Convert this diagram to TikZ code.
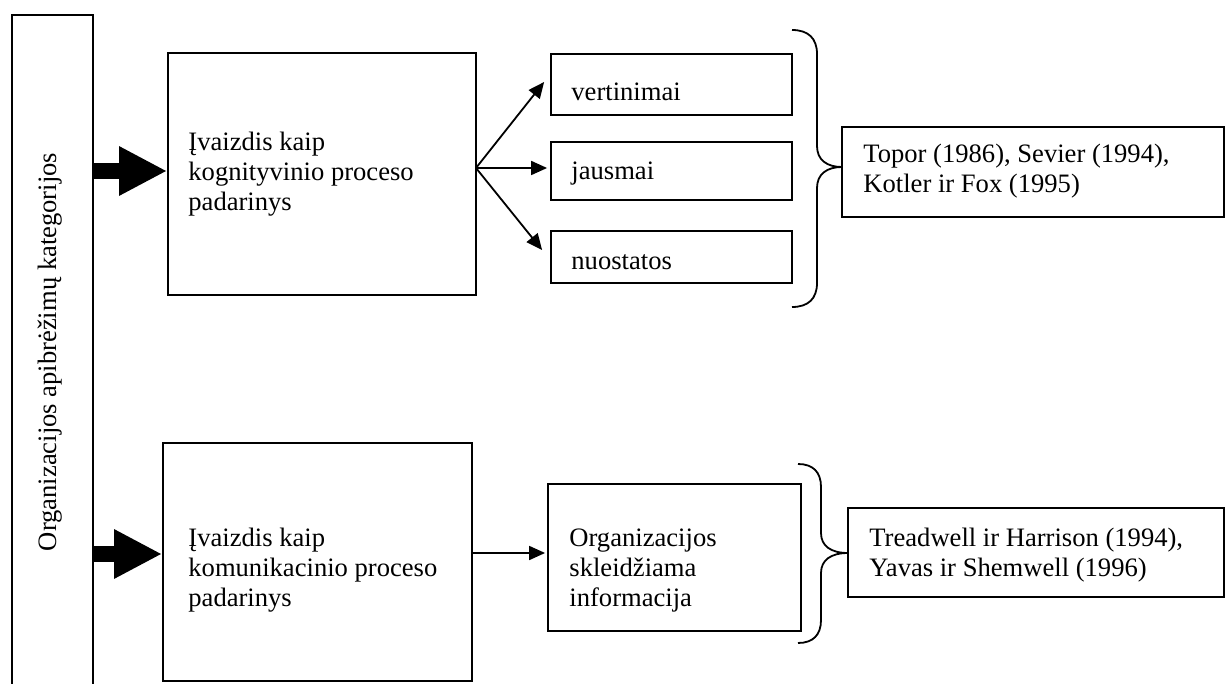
\documentclass[tikz,border=0pt]{standalone}
\usepackage{fontspec}
\setmainfont{Liberation Serif}
\usetikzlibrary{arrows.meta,fit,calc}
\begin{document}
\begin{tikzpicture}[x=0.5pt,y=-0.5pt,
  box/.style={draw, line width=0.9pt, inner sep=0pt},
  lbl/.style={inner sep=0pt, align=left, font=\fontsize{13.3}{15}\selectfont},
  thinarrow/.style={line width=0.9pt, -{Triangle[length=8pt 0 1,width=7pt 0 1]}},
  bigarrow/.style={line width=8pt, -{Triangle[length=24pt 0 1,width=23pt 0 1]}},
  bracepath/.style={line width=0.9pt}]
\useasboundingbox (0,0) rectangle (1226,684);

% tall category column (runs off the bottom of the page)
\node[box, fit={(12,15) (93,700)}] (cat) {};
\node[lbl, rotate=90, anchor=base] (catlbl) at (56,352) {Organizacijos apibrėžimų kategorijos};

% first category: cognitive process
% (multi-line labels are anchored at the baseline of their last line)
\node[box, fit={(168,53) (476,295)}] (b1) {};
\node[lbl, anchor=base west] (b1lbl) at (188,211) {Įvaizdis kaip\\kognityvinio proceso\\padarinys};

\node[box, fit={(551,54) (792,115)}] (v1) {};
\node[lbl, anchor=base west] (v1lbl) at (571,101) {vertinimai};
\node[box, fit={(551,142) (792,200)}] (v2) {};
\node[lbl, anchor=base west] (v2lbl) at (571,180) {jausmai};
\node[box, fit={(551,231) (792,283)}] (v3) {};
\node[lbl, anchor=base west] (v3lbl) at (571,270) {nuostatos};

\node[box, fit={(842,127) (1224,217)}] (ref1) {};
\node[lbl, anchor=base west] (ref1lbl) at (863,193) {Topor (1986), Sevier (1994),\\Kotler ir Fox (1995)};

% second category: communication process
\node[box, fit={(163,443) (472,681)}] (b2) {};
\node[lbl, anchor=base west] (b2lbl) at (188,606) {Įvaizdis kaip\\komunikacinio proceso\\padarinys};

\node[box, fit={(548,484) (801,631)}] (org) {};
\node[lbl, anchor=base west] (orglbl) at (569,606) {Organizacijos\\skleidžiama\\informacija};

\node[box, fit={(848,508) (1224,597)}] (ref2) {};
\node[lbl, anchor=base west] (ref2lbl) at (869,576) {Treadwell ir Harrison (1994),\\Yavas ir Shemwell (1996)};

% rows of the block arrows
\coordinate (row1) at (0,171);
\coordinate (row2) at (0,554);
\coordinate (fork) at (476,168);

\draw[bigarrow] (cat.east |- row1) -- (b1.west |- row1);
\draw[bigarrow] (cat.east |- row2) -- (b2.west |- row2);

% branching arrows
\draw[thinarrow] (fork) -- ([xshift=-3pt,yshift=1.25pt]v1.west);
\draw[thinarrow, shorten >=1.5pt] (fork) -- (fork -| v2.west);
\draw[thinarrow] (fork) -- ([xshift=-4pt,yshift=3.5pt]v3.west);

\draw[thinarrow, shorten >=1pt] (b2.east |- 0,553) -- (org.west |- 0,553);

% braces
\draw[bracepath] (792,30) .. controls (808,30) and (817,38) .. (817,54)
  -- (817,146) .. controls (817,160) and (827,167) .. (842,167)
  .. controls (827,167) and (817,174) .. (817,188)
  -- (817,283) .. controls (817,299) and (808,307) .. (792,307);
\draw[bracepath] (798,464) .. controls (813,464) and (821,472) .. (821,487)
  -- (821,533) .. controls (821,546) and (831,553) .. (848,553)
  .. controls (831,553) and (821,560) .. (821,573)
  -- (821,620) .. controls (821,635) and (813,643) .. (798,643);
\end{tikzpicture}
\end{document}
